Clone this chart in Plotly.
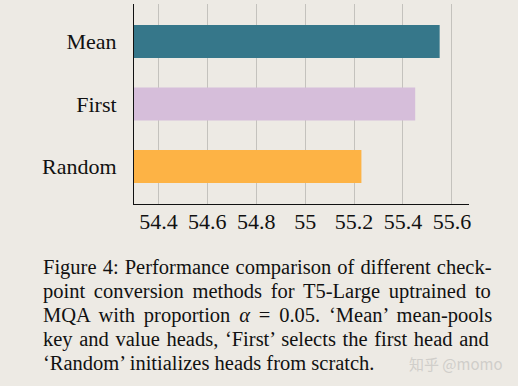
import plotly.graph_objects as go

# Data
methods = ["Mean", "First", "Random"]
scores = [55.55, 55.45, 55.23]
bar_colors = ["#36778A", "#D6BEDA", "#FDB345"]
tick_vals = [54.4, 54.6, 54.8, 55.0, 55.2, 55.4, 55.6]
tick_text = ["54.4", "54.6", "54.8", "55", "55.2", "55.4", "55.6"]
caption_lines = [
    "Figure 4: Performance comparison of different check-",
    "point conversion methods for T5-Large uptrained to",
    "MQA with proportion <i>α</i> = 0.05. ‘Mean’ mean-pools",
    "key and value heads, ‘First’ selects the first head and",
    "‘Random’ initializes heads from scratch.",
]
watermark = "知乎 @momo"

W, H = 518, 386
L, R, T, B = 134, 49, 4, 182
PW, PH = W - L - R, H - T - B
BG = "#EDEAE4"
SERIF = "Liberation Serif, Times New Roman, serif"


def px(x):
    return (x - L) / PW


def py(y):
    return (H - B - y) / PH


fig = go.Figure()
fig.add_trace(go.Bar(
    x=scores, y=methods, orientation="h",
    marker=dict(color=bar_colors, line=dict(width=0)),
    width=0.53, showlegend=False, hoverinfo="x+y",
))

annotations = []
line_y = [267, 291, 315, 339, 363]
word_gap = [1.0, 3.6, 3.7, 1.5, 0]
for txt, yy, gap in zip(caption_lines, line_y, word_gap):
    annotations.append(dict(
        text=f'<span style="word-spacing:{gap}px">{txt}</span>',
        xref="paper", yref="paper", x=px(41), y=py(yy),
        xanchor="left", yanchor="middle", showarrow=False,
        font=dict(family=SERIF, size=20.5, color="#111111"),
    ))
annotations.append(dict(
    text=watermark, xref="paper", yref="paper", x=px(505), y=py(363),
    xanchor="right", yanchor="middle", showarrow=False,
    font=dict(family="Noto Sans CJK SC, sans-serif", size=15, color="#D0CECA"),
))

fig.update_layout(
    width=W, height=H,
    margin=dict(l=L, r=R, t=T, b=B, pad=0),
    paper_bgcolor=BG, plot_bgcolor=BG,
    annotations=annotations,
    xaxis=dict(
        range=[54.3, 55.67], tickvals=tick_vals, ticktext=tick_text,
        showgrid=True, gridcolor="#C4C2BD", gridwidth=1,
        showline=True, linecolor="#111111", linewidth=1,
        ticks="", zeroline=False, ticklabelstandoff=-2,
        tickfont=dict(family=SERIF, size=22, color="#111111"),
        fixedrange=True,
    ),
    yaxis=dict(
        categoryorder="array", categoryarray=methods[::-1],
        range=[-0.6, 2.6],
        showgrid=False, showline=True, linecolor="#111111", linewidth=1,
        ticks="", ticklabelstandoff=12,
        tickfont=dict(family=SERIF, size=22, color="#111111"),
        fixedrange=True,
    ),
)

fig.write_html(
    "out.html",
    config={"displayModeBar": False},
    post_script="document.body.style.margin='0';",
)
